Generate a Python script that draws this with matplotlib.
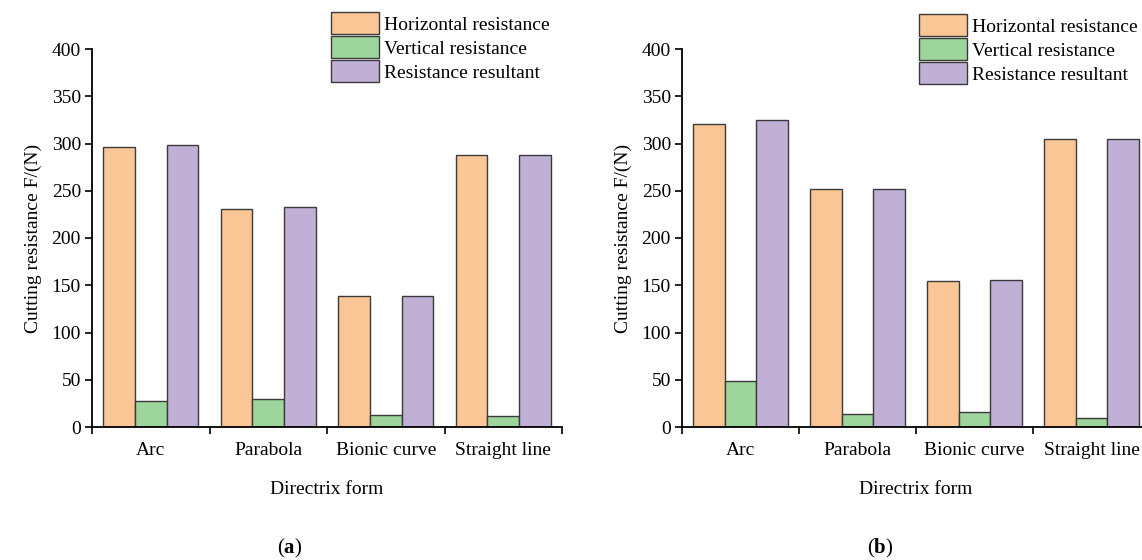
import matplotlib
matplotlib.use('Agg')
import matplotlib.pyplot as plt
import numpy as np

plt.rcParams['font.family'] = 'Liberation Serif'
plt.rcParams['mathtext.fontset'] = 'custom'
plt.rcParams['mathtext.rm'] = 'Liberation Serif'
plt.rcParams['mathtext.bf'] = 'Liberation Serif:bold'

forms = ['Arc', 'Parabola', 'Bionic curve', 'Straight line']
series = ['Horizontal resistance', 'Vertical resistance', 'Resistance resultant']

# cutting resistance (N) for each directrix form
horiz_a = [296, 231, 139, 288]
vert_a = [28, 30, 13, 12]
result_a = [298, 233, 139, 288]

horiz_b = [321, 252, 155, 305]
vert_b = [49, 14, 16, 10]
result_b = [325, 252, 156, 305]

colors = ['#FAC696', '#9DD59D', '#C0B0D6']
edge = '#3a3a3a'
fs = 14

fig = plt.figure(figsize=(11.42, 5.6), dpi=100)
W, H = 1142, 560


def panel(left, right, data, tag, leg_x, leg_y, tag_x):
    ax = fig.add_axes([left / W, 1 - 427 / H, (right - left) / W, (427 - 49) / H])
    x = np.arange(len(forms))
    w = 0.27
    bars = []
    for i, vals in enumerate(data):
        b = ax.bar(x + (i - 1) * w, vals, w, color=colors[i], edgecolor=edge,
                   linewidth=1.0, label=series[i])
        bars.append(b)
    ax.set_xlim(-0.5, 3.5)
    ax.set_ylim(0, 400)
    ax.set_yticks(np.arange(0, 401, 50))
    ax.set_xticks(x)
    ax.set_xticklabels(forms)
    ax.set_xticks(np.arange(-0.5, 3.6, 1), minor=True)
    ax.tick_params(axis='x', which='major', length=0, pad=11, labelsize=fs)
    ax.tick_params(axis='x', which='minor', length=5, width=1.2, direction='out')
    ax.tick_params(axis='y', length=5, width=1.2, pad=3, labelsize=fs)
    for s in ['top', 'right']:
        ax.spines[s].set_visible(False)
    for s in ['left', 'bottom']:
        ax.spines[s].set_linewidth(1.3)
    ax.set_xlabel('Directrix form', fontsize=fs, labelpad=16)
    ax.set_ylabel('Cutting resistance F/(N)', fontsize=fs, labelpad=7)
    fig.legend(handles=bars, labels=series, loc='upper left',
               bbox_to_anchor=(leg_x / W, 1 - leg_y / H), frameon=False,
               fontsize=fs, handlelength=2.45, handleheight=1.4,
               labelspacing=0.08, handletextpad=0.25, borderpad=0,
               borderaxespad=0)
    fig.text(tag_x / W, 1 - 548 / H, r'($\mathbf{' + tag + '}$)',
             ha='center', va='center', fontsize=fs + 1)
    return ax


panel(92, 562, [horiz_a, vert_a, result_a], 'a', 331, 12, 290)
panel(682, 1150, [horiz_b, vert_b, result_b], 'b', 919, 14, 880)

fig.savefig('out.png', dpi=100)
